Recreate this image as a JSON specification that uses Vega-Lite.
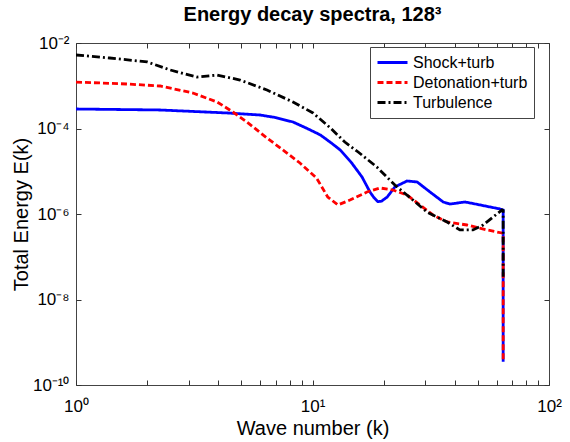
{
  "$schema": "https://vega.github.io/schema/vega-lite/v6.json",
  "width": 473,
  "height": 342,
  "autosize": "none",
  "padding": {"left": 76, "top": 43, "right": 21, "bottom": 57},
  "background": "white",
  "config": {
    "font": "Liberation Sans",
    "view": {"stroke": "#444", "strokeWidth": 1},
    "axis": {"grid": false, "domain": false, "labelFont": "Liberation Sans", "titleFont": "Liberation Sans", "labelColor": "#000", "titleColor": "#000", "tickColor": "#333", "tickWidth": 1}
  },
  "title": {"text": "Energy decay spectra, 128³", "fontSize": 20, "fontWeight": "bold", "font": "Liberation Sans", "offset": 9, "color": "#000"},
  "data": {"values": [
    {"s": "Shock+turb", "i": 1, "k": 1, "E": 2.86e-4},
    {"s": "Shock+turb", "i": 2, "k": 2.27, "E": 2.71e-4},
    {"s": "Shock+turb", "i": 3, "k": 4.35, "E": 2.31e-4},
    {"s": "Shock+turb", "i": 4, "k": 6.0, "E": 2.07e-4},
    {"s": "Shock+turb", "i": 5, "k": 7.0, "E": 1.8e-4},
    {"s": "Shock+turb", "i": 6, "k": 8.27, "E": 1.42e-4},
    {"s": "Shock+turb", "i": 7, "k": 9.5, "E": 1.0e-4},
    {"s": "Shock+turb", "i": 8, "k": 10.8, "E": 7.05e-5},
    {"s": "Shock+turb", "i": 9, "k": 12.0, "E": 4.6e-5},
    {"s": "Shock+turb", "i": 10, "k": 13.1, "E": 3.14e-5},
    {"s": "Shock+turb", "i": 11, "k": 14.6, "E": 1.6e-5},
    {"s": "Shock+turb", "i": 12, "k": 16.2, "E": 7.33e-6},
    {"s": "Shock+turb", "i": 13, "k": 17.5, "E": 3.27e-6},
    {"s": "Shock+turb", "i": 14, "k": 18.2, "E": 2.4e-6},
    {"s": "Shock+turb", "i": 15, "k": 18.9, "E": 1.95e-6},
    {"s": "Shock+turb", "i": 16, "k": 19.6, "E": 2.0e-6},
    {"s": "Shock+turb", "i": 17, "k": 20.7, "E": 2.5e-6},
    {"s": "Shock+turb", "i": 18, "k": 22.3, "E": 4.29e-6},
    {"s": "Shock+turb", "i": 19, "k": 25.1, "E": 5.92e-6},
    {"s": "Shock+turb", "i": 20, "k": 27.7, "E": 5.61e-6},
    {"s": "Shock+turb", "i": 21, "k": 31.4, "E": 3.27e-6},
    {"s": "Shock+turb", "i": 22, "k": 35.7, "E": 1.91e-6},
    {"s": "Shock+turb", "i": 23, "k": 38.1, "E": 1.71e-6},
    {"s": "Shock+turb", "i": 24, "k": 44.2, "E": 1.91e-6},
    {"s": "Shock+turb", "i": 25, "k": 51.1, "E": 1.63e-6},
    {"s": "Shock+turb", "i": 26, "k": 62.1, "E": 1.31e-6},
    {"s": "Shock+turb", "i": 27, "k": 64, "E": 1.24e-6},
    {"s": "Shock+turb", "i": 28, "k": 64, "E": 3.5e-10},
    {"s": "Detonation+turb", "i": 1, "k": 1, "E": 1.22e-3},
    {"s": "Detonation+turb", "i": 2, "k": 1.64, "E": 1.10e-3},
    {"s": "Detonation+turb", "i": 3, "k": 2.27, "E": 9.87e-4},
    {"s": "Detonation+turb", "i": 4, "k": 3.12, "E": 6.76e-4},
    {"s": "Detonation+turb", "i": 5, "k": 3.95, "E": 4.17e-4},
    {"s": "Detonation+turb", "i": 6, "k": 4.61, "E": 2.43e-4},
    {"s": "Detonation+turb", "i": 7, "k": 5.28, "E": 1.42e-4},
    {"s": "Detonation+turb", "i": 8, "k": 6.42, "E": 6.0e-5},
    {"s": "Detonation+turb", "i": 9, "k": 7.8, "E": 2.67e-5},
    {"s": "Detonation+turb", "i": 10, "k": 8.85, "E": 1.56e-5},
    {"s": "Detonation+turb", "i": 11, "k": 10.4, "E": 6.95e-6},
    {"s": "Detonation+turb", "i": 12, "k": 11.6, "E": 2.5e-6},
    {"s": "Detonation+turb", "i": 13, "k": 12.8, "E": 1.63e-6},
    {"s": "Detonation+turb", "i": 14, "k": 14.4, "E": 2.12e-6},
    {"s": "Detonation+turb", "i": 15, "k": 17.0, "E": 3.27e-6},
    {"s": "Detonation+turb", "i": 16, "k": 19.3, "E": 4.06e-6},
    {"s": "Detonation+turb", "i": 17, "k": 21.9, "E": 3.64e-6},
    {"s": "Detonation+turb", "i": 18, "k": 25.1, "E": 2.78e-6},
    {"s": "Detonation+turb", "i": 19, "k": 28.5, "E": 1.63e-6},
    {"s": "Detonation+turb", "i": 20, "k": 32.3, "E": 9.5e-7},
    {"s": "Detonation+turb", "i": 21, "k": 37.1, "E": 6.5e-7},
    {"s": "Detonation+turb", "i": 22, "k": 45.0, "E": 5.53e-7},
    {"s": "Detonation+turb", "i": 23, "k": 54.7, "E": 4.23e-7},
    {"s": "Detonation+turb", "i": 24, "k": 63.3, "E": 3.6e-7},
    {"s": "Detonation+turb", "i": 25, "k": 64, "E": 3.5e-7},
    {"s": "Detonation+turb", "i": 26, "k": 64, "E": 3.5e-10},
    {"s": "Turbulence", "i": 1, "k": 1, "E": 5.24e-3},
    {"s": "Turbulence", "i": 2, "k": 1.39, "E": 4.46e-3},
    {"s": "Turbulence", "i": 3, "k": 2.0, "E": 3.6e-3},
    {"s": "Turbulence", "i": 4, "k": 2.5, "E": 2.34e-3},
    {"s": "Turbulence", "i": 5, "k": 3.25, "E": 1.6e-3},
    {"s": "Turbulence", "i": 6, "k": 3.95, "E": 1.78e-3},
    {"s": "Turbulence", "i": 7, "k": 4.94, "E": 1.36e-3},
    {"s": "Turbulence", "i": 8, "k": 6.42, "E": 7.96e-4},
    {"s": "Turbulence", "i": 9, "k": 8.27, "E": 4.17e-4},
    {"s": "Turbulence", "i": 10, "k": 10.05, "E": 2.31e-4},
    {"s": "Turbulence", "i": 11, "k": 11.9, "E": 1.03e-4},
    {"s": "Turbulence", "i": 12, "k": 13.7, "E": 4.83e-5},
    {"s": "Turbulence", "i": 13, "k": 15.6, "E": 2.82e-5},
    {"s": "Turbulence", "i": 14, "k": 18.7, "E": 1.26e-5},
    {"s": "Turbulence", "i": 15, "k": 22.3, "E": 4.76e-6},
    {"s": "Turbulence", "i": 16, "k": 26.6, "E": 2.12e-6},
    {"s": "Turbulence", "i": 17, "k": 30.5, "E": 1.11e-6},
    {"s": "Turbulence", "i": 18, "k": 37.1, "E": 6.5e-7},
    {"s": "Turbulence", "i": 19, "k": 42.0, "E": 4.23e-7},
    {"s": "Turbulence", "i": 20, "k": 47.7, "E": 4.23e-7},
    {"s": "Turbulence", "i": 21, "k": 52.6, "E": 5.53e-7},
    {"s": "Turbulence", "i": 22, "k": 58.0, "E": 8.5e-7},
    {"s": "Turbulence", "i": 23, "k": 63.3, "E": 1.24e-6},
    {"s": "Turbulence", "i": 24, "k": 64, "E": 1.2e-6},
    {"s": "Turbulence", "i": 25, "k": 64, "E": 3e-8}
  ]},
  "resolve": {"scale": {"x": "shared", "y": "shared"}, "axis": {"x": "independent", "y": "independent"}},
  "layer": [
    {
      "mark": {"type": "line", "strokeWidth": 2.8, "clip": true},
      "encoding": {
        "x": {"field": "k", "type": "quantitative",
          "scale": {"type": "log", "domain": [1, 100], "nice": false},
          "axis": {"orient": "bottom", "values": [1, 10, 100], "ticks": false, "labelFontSize": 17, "labelPadding": 13,
            "labelExpr": "datum.value < 2 ? '10⁰' : datum.value < 20 ? '10¹' : '10²'",
            "labelFlush": false, "labelOverlap": false,
            "title": "Wave number (k)", "titleFontSize": 20, "titleFontWeight": "normal", "titlePadding": 4}},
        "y": {"field": "E", "type": "quantitative",
          "scale": {"type": "log", "domain": [1e-10, 1e-2], "nice": false},
          "axis": {"orient": "left", "values": [1e-10, 1e-8, 1e-6, 1e-4, 1e-2], "ticks": false, "labelFontSize": 17, "labelPadding": 7,
            "labelExpr": "datum.value > 9e-3 ? '10⁻²' : datum.value > 9e-5 ? '10⁻⁴' : datum.value > 9e-7 ? '10⁻⁶' : datum.value > 9e-9 ? '10⁻⁸' : '10⁻¹⁰'",
            "labelFlush": false, "labelOverlap": false,
            "title": "Total Energy E(k)", "titleFontSize": 20, "titleFontWeight": "normal", "titlePadding": 1}},
        "color": {"field": "s", "type": "nominal",
          "scale": {"domain": ["Shock+turb", "Detonation+turb", "Turbulence"], "range": ["#0000ff", "#ff0000", "#000000"]},
          "legend": {"title": null, "orient": "none", "legendX": 294, "legendY": 4, "symbolType": "stroke", "symbolSize": 900, "symbolStrokeWidth": 2.8,
            "labelFontSize": 16, "labelFont": "Liberation Sans", "labelColor": "#000", "rowPadding": 1, "clipHeight": 19, "labelOffset": 4,
            "strokeColor": "#444", "fillColor": "white", "padding": 6, "cornerRadius": 0}},
        "strokeDash": {"field": "s", "type": "nominal",
          "scale": {"domain": ["Shock+turb", "Detonation+turb", "Turbulence"], "range": [[1, 0], [6, 3], [8, 3, 2, 3]]},
          "legend": {"title": null, "orient": "none", "legendX": 294, "legendY": 4, "symbolType": "stroke", "symbolSize": 900, "symbolStrokeWidth": 2.8,
            "labelFontSize": 16, "labelFont": "Liberation Sans", "labelColor": "#000", "rowPadding": 1, "clipHeight": 19, "labelOffset": 4,
            "strokeColor": "#444", "fillColor": "white", "padding": 6, "cornerRadius": 0}},
        "order": {"field": "i", "type": "quantitative"}
      }
    },
    {
      "mark": {"type": "line", "opacity": 0},
      "encoding": {
        "x": {"field": "k", "type": "quantitative",
          "axis": {"orient": "bottom", "values": [1,2,3,4,5,6,7,8,9,10,20,30,40,50,60,70,80,90,100], "labels": false, "tickSize": -5, "title": null}},
        "y": {"field": "E", "type": "quantitative",
          "axis": {"orient": "left", "values": [1e-10, 1e-8, 1e-6, 1e-4, 1e-2], "labels": false, "tickSize": -5, "title": null}},
        "detail": {"field": "s"}
      }
    },
    {
      "mark": {"type": "line", "opacity": 0},
      "encoding": {
        "x": {"field": "k", "type": "quantitative",
          "axis": {"orient": "top", "values": [1,2,3,4,5,6,7,8,9,10,20,30,40,50,60,70,80,90,100], "labels": false, "tickSize": -5, "title": null}},
        "y": {"field": "E", "type": "quantitative",
          "axis": {"orient": "right", "values": [1e-10, 1e-8, 1e-6, 1e-4, 1e-2], "labels": false, "tickSize": -5, "title": null}},
        "detail": {"field": "s"}
      }
    }
  ]
}
